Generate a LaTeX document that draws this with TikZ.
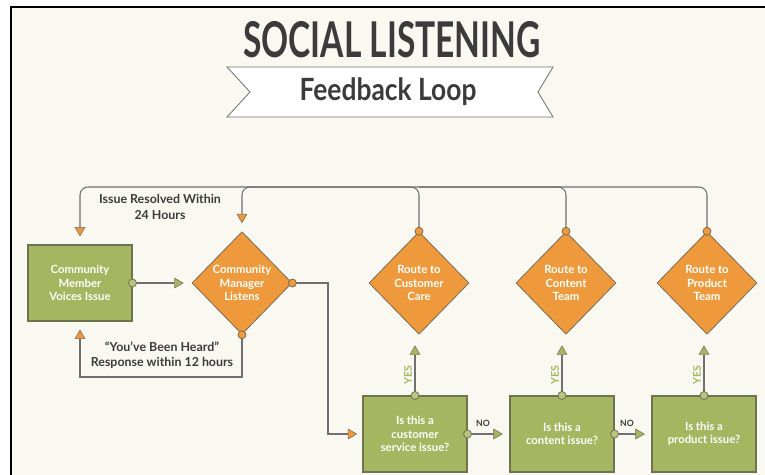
\documentclass[tikz,border=0pt]{standalone}
\usepackage{fontspec}
\setmainfont{Lato}
\usepackage{tikz}
\usetikzlibrary{arrows.meta, positioning, shapes.geometric, calc}

\definecolor{bgcream}{HTML}{FAF9F1}
\definecolor{boxgreen}{HTML}{A4B760}
\definecolor{boxgreenline}{HTML}{6E7450}
\definecolor{dmdorange}{HTML}{EE9A3C}
\definecolor{dmdline}{HTML}{7A6A55}
\definecolor{linegray}{HTML}{707070}
\definecolor{titlegray}{HTML}{3B3B3B}

\begin{document}
\begin{tikzpicture}[
  x=0.75pt, y=-0.75pt,
  qbox/.style={rectangle, draw=boxgreenline, fill=boxgreen, line width=0.8pt,
    minimum width=78pt, minimum height=57pt, align=center,
    text=white, font=\fontsize{8.5}{10}\selectfont\bfseries, inner sep=2pt},
  dmd/.style={diamond, aspect=1, draw=dmdline, fill=dmdorange, line width=0.6pt,
    minimum width=75pt, minimum height=77pt, align=center, inner sep=0pt,
    text=white, font=\fontsize{8.5}{10}\selectfont\bfseries},
  gdot/.style={circle, draw=boxgreenline, fill=boxgreen!80!white, line width=0.6pt,
    minimum size=6pt, inner sep=0pt},
  odot/.style={circle, draw=dmdline, fill=dmdorange, line width=0.6pt,
    minimum size=6pt, inner sep=0pt},
  note/.style={align=center, text=titlegray, font=\fontsize{9.3}{11.5}\selectfont\bfseries},
  arrO/.style={draw=linegray, line width=0.8pt, shorten >=6pt,
    -{Triangle[length=7pt, width=8pt, color=dmdline, fill=dmdorange, line width=0.4pt]}},
  arrG/.style={draw=linegray, line width=0.8pt, shorten >=6pt,
    -{Triangle[length=7pt, width=8pt, color=boxgreenline, fill=boxgreen, line width=0.4pt]}},
  loopline/.style={draw=linegray, line width=0.8pt, rounded corners=6pt}
]
%% --- Frame and background ---
\useasboundingbox (0,0) rectangle (765,475);
\fill[white] (0,0) rectangle (765,475);
\fill[bgcream] (11,7) rectangle (765,475);
\draw[black, line width=1.2pt] (11,475) -- (11,7) -- (765,7);

%% --- Title and ribbon ---
\node[text=titlegray, inner sep=0pt] (title) at (392,40)
  {\scalebox{0.68}[1]{\fontsize{37}{37}\selectfont\bfseries SOCIAL LISTENING}};
\draw[draw=linegray, fill=white, line width=0.6pt]
  (227,67) -- (553,67) -- (538,92) -- (553,117) -- (227,117) -- (250,92) -- cycle;
\node[text=titlegray, inner sep=0pt] (subtitle) at (388,92)
  {\scalebox{0.86}[1]{\fontsize{23}{23}\selectfont\bfseries Feedback Loop}};

%% --- Main nodes ---
\node[qbox] (voice) at (80,283) {Community\\Member\\Voices Issue};
\node[dmd]  (mgr)   at (242,283) {Community\\Manager\\Listens};

\node[dmd] (care)    at (419,283) {Route to\\Customer\\Care};
\node[dmd] (content) at (566,283) {Route to\\Content\\Team};
\node[dmd] (product) at (707,283) {Route to\\Product\\Team};

\node[qbox] (q1) at (415,434) {Is this a\\customer\\service issue?};
\node[qbox] (q2) at (562,434) {Is this a\\content issue?};
\node[qbox] (q3) at (704,434) {Is this a\\product issue?};

%% --- Helper coordinates ---
\coordinate (toprow) at (0,187);
\coordinate (botrow) at (0,377);
\coordinate (bend)   at (328,283);

%% --- Top feedback loop ---
\draw[loopline] (content.north) |- (care.north |- toprow);
\draw[loopline, arrO] (product.north) |- (voice.north |- toprow) -- (voice.north);
\draw[loopline, arrO] (care.north) |- (mgr.north |- toprow) -- (mgr.north);
\node[note] (resolved) at (160,207) {Issue Resolved Within\\24 Hours};

%% --- Bottom response loop ---
\draw[arrO] (mgr.south) |- (voice.south |- botrow) -- (voice.south);
\node[note] (heard) at (162,355) {``You've Been Heard''\\Response within 12 hours};

%% --- Voice -> manager -> questions ---
\draw[arrG] (voice.east) -- (mgr.west);
\draw[arrO, shorten >=4pt] (mgr.east) -- (bend) |- (q1.west);

%% --- YES / NO branches ---
\draw[arrG, shorten >=8pt] (q1.north) -- (q1.north |- care.south);
\draw[arrG, shorten >=8pt] (q2.north) -- (q2.north |- content.south);
\draw[arrG, shorten >=8pt] (q3.north) -- (q3.north |- product.south);
\draw[arrG, shorten >=5pt] (q1.east) -- (q2.west);
\draw[arrG, shorten >=5pt] (q2.east) -- (q3.west);

\node[rotate=90, text=boxgreen, font=\fontsize{8}{8}\selectfont\bfseries] (yes1) at (408,375) {YES};
\node[rotate=90, text=boxgreen, font=\fontsize{8}{8}\selectfont\bfseries] (yes2) at (555,375) {YES};
\node[rotate=90, text=boxgreen, font=\fontsize{8}{8}\selectfont\bfseries] (yes3) at (697,375) {YES};
\node[text=titlegray, font=\fontsize{6.5}{6.5}\selectfont\bfseries] (no1) at (483,423) {NO};
\node[text=titlegray, font=\fontsize{6.5}{6.5}\selectfont\bfseries] (no2) at (627,423) {NO};

%% --- Connector dots ---
\node[gdot] (d1) at (voice.east) {};
\node[odot] (d2) at (mgr.east) {};
\node[odot] (d3) at (mgr.south) {};
\node[odot] (d4) at (care.north) {};
\node[odot] (d5) at (content.north) {};
\node[odot] (d6) at (product.north) {};
\node[gdot] (d7) at (q1.north) {};
\node[gdot] (d8) at (q2.north) {};
\node[gdot] (d9) at (q3.north) {};
\node[gdot] (d10) at (q1.east) {};
\node[gdot] (d11) at (q2.east) {};
\end{tikzpicture}
\end{document}
